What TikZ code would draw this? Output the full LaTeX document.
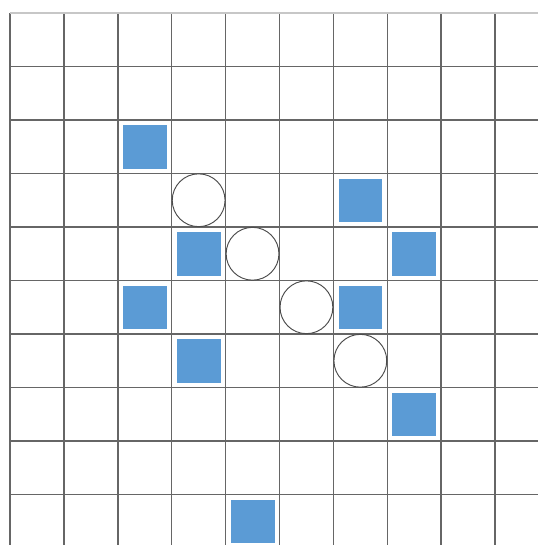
\documentclass[tikz,border=0pt]{standalone}
\usepackage{tikz}
\definecolor{boxblue}{HTML}{5B9BD5}
\tikzset{
  gridline/.style={line width=0.75pt, draw=black!60},
  topline/.style={line width=0.9pt, draw=black!22},
  bluebox/.style={draw=white, line width=0.4pt, fill=boxblue, minimum width=0.83cm, minimum height=0.83cm, inner sep=0pt},
  ring/.style={draw=black!70, line width=0.5pt, circle, minimum size=0.98cm, inner sep=0pt, outer sep=0pt},
}

\begin{document}
\begin{tikzpicture}[x=1cm, y=-0.9926cm]
  \useasboundingbox (-0.1855,-0.243) rectangle (9.796,9.944);
  % grid
  \foreach \i in {1,...,9} \draw[gridline] (0,\i) -- (9.796,\i);
  \foreach \i in {0,...,9} \draw[gridline] (\i,0) -- (\i,9.944);
  \draw[topline] (0,0) -- (9.796,0);
  % blue boxes
  \node[bluebox] (b1) at (2.5,2.5) {};
  \node[bluebox] (b2) at (6.5,3.5) {};
  \node[bluebox] (b3) at (3.5,4.5) {};
  \node[bluebox] (b4) at (7.5,4.5) {};
  \node[bluebox] (b5) at (2.5,5.5) {};
  \node[bluebox] (b6) at (6.5,5.5) {};
  \node[bluebox] (b7) at (3.5,6.5) {};
  \node[bluebox] (b8) at (7.5,7.5) {};
  \node[bluebox] (b9) at (4.5,9.5) {};
  % rings
  \node[ring] (r1) at (3.5,3.5) {};
  \node[ring] (r2) at (4.5,4.5) {};
  \node[ring] (r3) at (5.5,5.5) {};
  \node[ring] (r4) at (6.5,6.5) {};
\end{tikzpicture}
\end{document}
